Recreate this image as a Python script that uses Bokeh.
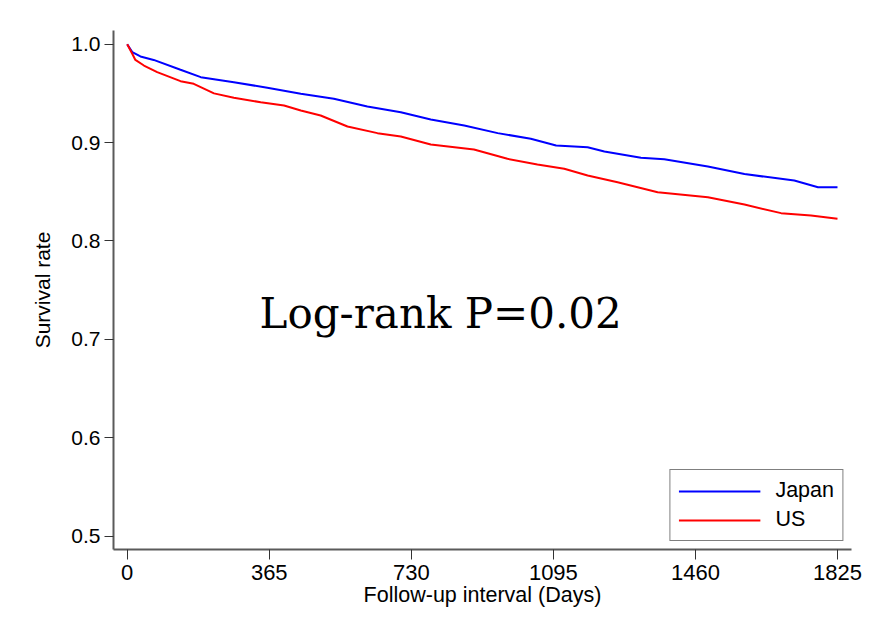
from bokeh.plotting import figure
from bokeh.models import Range1d, FixedTicker, Legend, LegendItem, Label, PrintfTickFormatter
from bokeh.embed import file_html
from bokeh.resources import INLINE

# Kaplan-Meier survival estimates
japan_days = [0, 13, 34, 68, 137, 189, 274, 360, 446, 531, 617, 703, 780, 866, 952, 1037,
              1102, 1183, 1226, 1320, 1380, 1492, 1586, 1714, 1775, 1825]
japan_surv = [1.0, 0.9919, 0.9875, 0.984, 0.974, 0.9665, 0.9614, 0.9557, 0.9496, 0.9445,
              0.9367, 0.9309, 0.9235, 0.9174, 0.9096, 0.9039, 0.897, 0.8953, 0.891, 0.8845,
              0.883, 0.8757, 0.868, 0.8614, 0.8546, 0.8546]

us_days = [0, 13, 21, 43, 77, 137, 171, 223, 274, 343, 403, 446, 497, 566, 643, 703, 780,
           891, 977, 1054, 1123, 1183, 1260, 1363, 1492, 1586, 1680, 1757, 1825]
us_surv = [1.0, 0.9902, 0.984, 0.9783, 0.9716, 0.9624, 0.9597, 0.950, 0.9455, 0.941, 0.9377,
           0.9326, 0.9275, 0.9163, 0.9096, 0.9062, 0.898, 0.893, 0.8835, 0.8777, 0.8734,
           0.8666, 0.8597, 0.8496, 0.8445, 0.837, 0.8283, 0.826, 0.8226]

x_ticks = [0, 365, 730, 1095, 1460, 1825]
y_ticks = [0.5, 0.6, 0.7, 0.8, 0.9, 1.0]
series_names = ["Japan", "US"]
annotation = "Log-rank P=0.02"

p = figure(width=873, height=628, output_backend="svg", toolbar_location=None,
           x_range=Range1d(-35.2, 1861), y_range=Range1d(0.4865, 1.0139),
           min_border_left=113, min_border_right=22, min_border_top=30, min_border_bottom=79)
p.outline_line_color = None
p.xgrid.grid_line_color = None
p.ygrid.grid_line_color = None
p.background_fill_color = "white"
p.border_fill_color = "white"

r_jp = p.line(japan_days, japan_surv, line_color="#0000ff", line_width=2)
r_us = p.line(us_days, us_surv, line_color="#ff0000", line_width=2)

for ax, ticks in ((p.xaxis[0], x_ticks), (p.yaxis[0], y_ticks)):
    ax.ticker = FixedTicker(ticks=ticks)
    ax.axis_line_color = "#5a5a5a"
    ax.axis_line_width = 2
    ax.major_tick_line_color = "#333333"
    ax.major_tick_line_width = 1
    ax.major_tick_out = 9
    ax.major_tick_in = 0
    ax.minor_tick_line_color = None
    ax.major_label_text_font = "Liberation Sans"
    ax.major_label_text_color = "black"
    ax.axis_label_text_font = "Liberation Sans"
    ax.axis_label_text_font_style = "normal"
    ax.axis_label_text_color = "black"

p.xaxis[0].major_tick_out = 10
p.xaxis[0].major_label_text_font_size = "22px"
p.xaxis[0].major_label_standoff = 5
p.xaxis[0].axis_label = "Follow-up interval (Days)"
p.xaxis[0].axis_label_text_font_size = "21.5px"
p.xaxis[0].axis_label_standoff = 0

p.yaxis[0].formatter = PrintfTickFormatter(format="%.1f")
p.yaxis[0].major_label_text_font_size = "21px"
p.yaxis[0].major_label_standoff = 4
p.yaxis[0].major_label_orientation = "horizontal"
p.yaxis[0].axis_label = "Survival rate"
p.yaxis[0].axis_label_text_font_size = "21px"
p.yaxis[0].axis_label_standoff = 14

p.add_layout(Label(x=340, y=0.726, text=annotation, text_font="DejaVu Serif",
                   text_font_size="42px", text_color="black", text_baseline="alphabetic",
                   text_align="left"))

legend = Legend(items=[LegendItem(label=series_names[0], renderers=[r_jp]),
                       LegendItem(label=series_names[1], renderers=[r_us])],
                location="bottom_right", margin=8, padding=8, spacing=4,
                glyph_width=82, glyph_height=20, label_height=20, label_standoff=15,
                label_text_font="Liberation Sans", label_text_font_size="21.5px",
                label_text_color="black",
                border_line_color="black", border_line_width=1,
                background_fill_color="white", background_fill_alpha=1.0)
p.add_layout(legend)

open("out.html", "w").write(file_html(p, INLINE))
